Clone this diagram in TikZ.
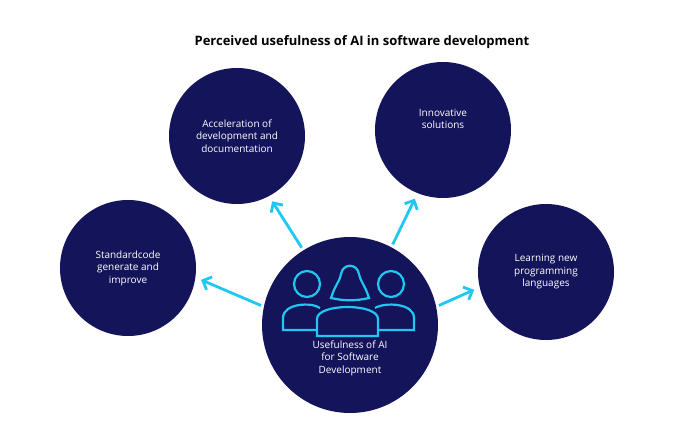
\documentclass[tikz,border=0pt]{standalone}
\usepackage{fontspec}
\setmainfont{Open Sans}
\usetikzlibrary{arrows.meta,positioning}
\definecolor{navy}{HTML}{14145A}
\definecolor{sky}{HTML}{1EC8F2}
\begin{document}
\begin{tikzpicture}[x=1pt,y=-1pt,
    topic/.style={circle,fill=navy,text=white,minimum size=136pt,inner sep=0pt,
      align=center,font=\fontsize{10}{12.5}\selectfont},
    link/.style={draw=sky,line width=2.8pt,shorten <=3pt,shorten >=6pt,
      -{Straight Barb[length=7pt,width=14pt]}}]
  \useasboundingbox (0,0) rectangle (700,420);
  \node[font=\fontsize{13}{15}\selectfont\bfseries] (title) at (362,42) {Perceived usefulness of AI in software development};
  \node[topic] (accel) at (237,136) {Acceleration of\\development and\\documentation};
  \node[topic] (innov) at (443,130) {Innovative\\solutions\\[10pt]};
  \node[topic] (std) at (128,268) {Standardcode\\generate and\\improve};
  \node[topic] (learn) at (546,272) {Learning new\\programming\\languages};
  \node[topic,minimum size=176pt] (core) at (350,325) {};
  \node[text=white,align=center,font=\fontsize{10}{12.5}\selectfont] (coretext) at (350,358) {Usefulness of AI\\for Software\\Development};
  % icon
  \begin{scope}[draw=sky,line width=2.2pt]
    \draw (307,284) circle (13);
    \draw (391,284) circle (13);
    \draw (331,298) .. controls (335,285) and (339,283) .. (341,274) .. controls (343,263) and (357,263) .. (359,274) .. controls (361,283) and (365,285) .. (369,298) .. controls (356,301) and (344,301) .. (331,298) -- cycle;
    \draw (317,336) -- (317,319) .. controls (317,303) and (378,303) .. (378,319) -- (378,336) -- cycle;
    \draw (317,330) -- (283,330) -- (283,318) .. controls (283,303) and (312,302) .. (320,308);
    \draw (378,330) -- (414,330) -- (414,318) .. controls (414,303) and (385,302) .. (375,308);
  \end{scope}
  % connectors
  \draw[link] (core.168) -- (std.-8);
  \draw[link] (core.122) -- (accel.-62);
  \draw[link] (core.62) -- (innov.-112);
  \draw[link] (core.12) -- (learn.193);
\end{tikzpicture}
\end{document}
